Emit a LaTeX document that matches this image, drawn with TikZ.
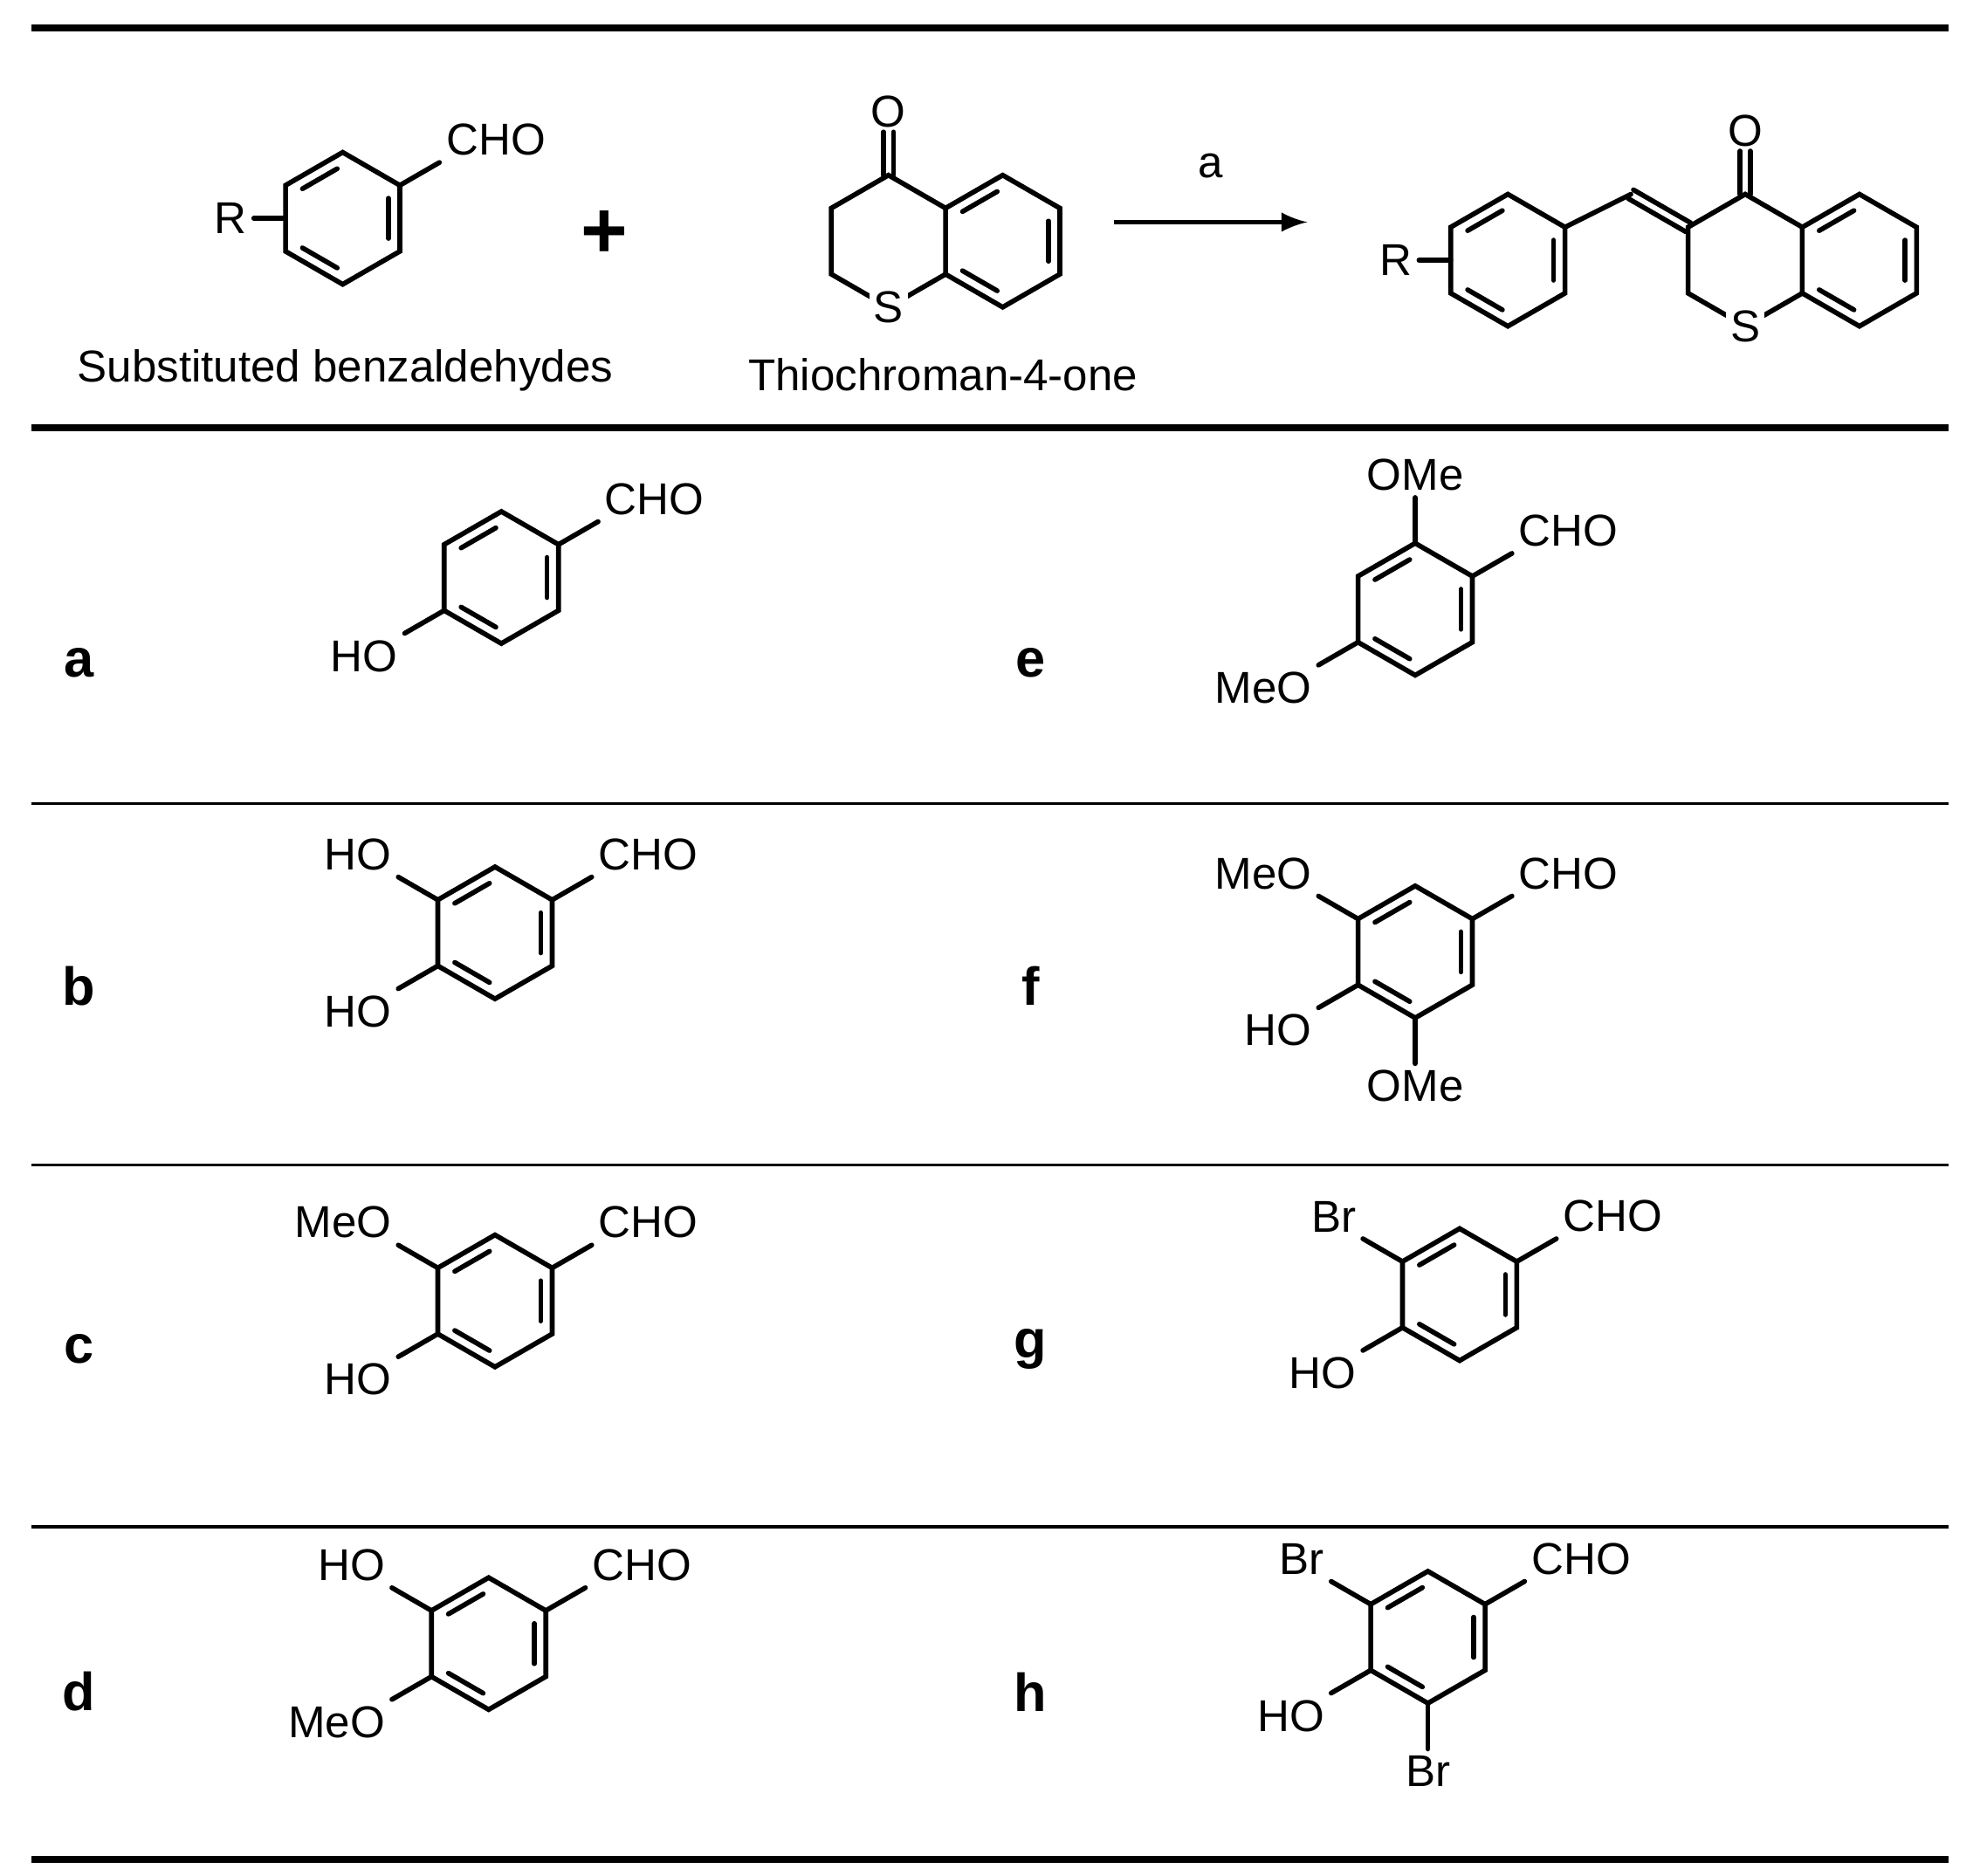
\documentclass[tikz,border=0pt]{standalone}
\usepackage{fontspec}
\setmainfont{Liberation Sans}
\usetikzlibrary{calc}
\newcommand{\ringr}{52}
\newcommand{\innerbond}[3]{%
  \draw[bond] ($($(#1c)!0.8!(#1#2)$)!0.12!($(#1c)!0.8!(#1#3)$)$)--($($(#1c)!0.8!(#1#3)$)!0.12!($(#1c)!0.8!(#1#2)$)$);}
% \molring{name}{cx}{cy}
\newcommand{\molring}[3]{%
  \coordinate (#1c) at (#2,-#3);
  \foreach \i/\a in {1/90,2/30,3/-30,4/-90,5/-150,6/150}{\coordinate (#1\i) at ($(#1c)+(\a:\ringr)$);}
  \draw[bond] (#11)--(#12)--(#13)--(#14)--(#15)--(#16)--cycle;
  \innerbond{#1}{2}{3}\innerbond{#1}{4}{5}\innerbond{#1}{6}{1}}
% \subst{vertex}{angle}{label}{anchor}
\newcommand{\subst}[4]{%
  \draw[bond] (#1)--++(#2:36) node[lab,anchor=#4,inner sep=1pt]{#3};}
\tikzset{bond/.style={line width=1.1pt,black,line cap=round},lab/.style={font=\fontsize{10}{12}\selectfont},
  rowlab/.style={font=\fontsize{12}{14}\selectfont\bfseries},
  thick rule/.style={line width=1.7pt},thin rule/.style={line width=0.6pt}}
\begin{document}
\begin{tikzpicture}[x=0.1mm,y=0.1mm]
\useasboundingbox (0,0) rectangle (1560,-1478);
% rules
\draw[thick rule] (25,-22)--(1535,-22);
\draw[thick rule] (25,-337)--(1535,-337);
\draw[thin rule] (25,-633)--(1535,-633);
\draw[thin rule] (25,-918)--(1535,-918);
\draw[thin rule] (25,-1203)--(1535,-1203);
\draw[thick rule] (25,-1465)--(1535,-1465);
% reactant 1
\molring{A}{270}{172}
\subst{A2}{30}{CHO}{south west}
\draw[bond] ($(A5)!0.5!(A6)$)--++(-25,0) node[lab,anchor=east,inner sep=1pt] (Rl) {R};
\node[font=\fontsize{18}{20}\selectfont\bfseries] (plus) at (476,-185) {+};
\node[lab] (n1) at (272,-292) {Substituted benzaldehydes};
% thiochromanone
\molring{T}{790}{190}
\foreach \i/\a in {1/90,2/30,3/-30,4/-90,5/-150,6/150}{\coordinate (U\i) at ($(700,-190)+(\a:\ringr)$);}
\draw[bond] (U2)--(U1)--(U6)--(U5)--(U4)--(U3);
\draw[bond] ($(U1)+(-4,0)$)--++(0,34);\draw[bond] ($(U1)+(4,0)$)--++(0,34);
\node[lab,fill=white,inner sep=1pt] (S1) at (U4) {S};
\node[lab] (O1) at ($(U1)+(0,50)$) {O};
\node[lab] (n2) at (743,-295) {Thiochroman-4-one};
% arrow
\coordinate (ar1) at (878,-175); \coordinate (ar2) at (1030,-175);
\draw[line width=1pt,-latex] (ar1)--(ar2) node[midway,above=6pt,lab] (acond) {a};
% product
\foreach \i/\a in {1/90,2/30,3/-30,4/-90,5/-150,6/150}{\coordinate (P\i) at ($(1375,-205)+(\a:\ringr)$);}
\molring{Q}{1465}{205}
\draw[bond] (P2)--(P1)--(P6)--(P5)--(P4)--(P3);
\draw[bond] ($(P1)+(-4,0)$)--++(0,34);\draw[bond] ($(P1)+(4,0)$)--++(0,34);
\node[lab] (O2) at ($(P1)+(0,50)$) {O};
\node[lab,fill=white,inner sep=1pt] (S2) at (P4) {S};
\coordinate (CH) at ($(P6)+(150:\ringr)$);
\draw[bond] ($(P6)+(60:4)$)--($(CH)+(60:4)$);
\draw[bond] ($(P6)+(240:4)$)--($(CH)+(240:4)$);
\molring{B}{1188}{205}
\draw[bond] (CH)--(B2);
\draw[bond] ($(B5)!0.5!(B6)$)--++(-25,0) node[lab,anchor=east,inner sep=1pt] (R2) {R};
% row labels
\node[rowlab] (la) at (62,-522) {a};
\node[rowlab] (lb) at (62,-777) {b};
\node[rowlab] (lc) at (62,-1063) {c};
\node[rowlab] (ld) at (62,-1333) {d};
\node[rowlab] (le) at (812,-522) {e};
\node[rowlab] (lf) at (812,-777) {f};
\node[rowlab] (lg) at (812,-1063) {g};
\node[rowlab] (lh) at (812,-1333) {h};
% a
\molring{a}{395}{455}
\subst{a2}{30}{CHO}{south west}
\subst{a5}{-150}{HO}{north east}
% b
\molring{b}{390}{735}
\subst{b2}{30}{CHO}{south west}
\subst{b6}{150}{HO}{south east}
\subst{b5}{-150}{HO}{north east}
% c
\molring{c}{390}{1025}
\subst{c2}{30}{CHO}{south west}
\subst{c6}{150}{MeO}{south east}
\subst{c5}{-150}{HO}{north east}
% d
\molring{d}{385}{1295}
\subst{d2}{30}{CHO}{south west}
\subst{d6}{150}{HO}{south east}
\subst{d5}{-150}{MeO}{north east}
% e
\molring{e}{1115}{480}
\subst{e2}{30}{CHO}{south west}
\subst{e1}{90}{OMe}{south}
\subst{e5}{-150}{MeO}{north east}
% f
\molring{f}{1115}{750}
\subst{f2}{30}{CHO}{south west}
\subst{f6}{150}{MeO}{south east}
\subst{f5}{-150}{HO}{north east}
\subst{f4}{-90}{OMe}{north}
% g
\molring{g}{1150}{1020}
\subst{g2}{30}{CHO}{south west}
\subst{g6}{150}{Br}{south east}
\subst{g5}{-150}{HO}{north east}
% h
\molring{h}{1125}{1290}
\subst{h2}{30}{CHO}{south west}
\subst{h6}{150}{Br}{south east}
\subst{h5}{-150}{HO}{north east}
\subst{h4}{-90}{Br}{north}
\end{tikzpicture}
\end{document}
